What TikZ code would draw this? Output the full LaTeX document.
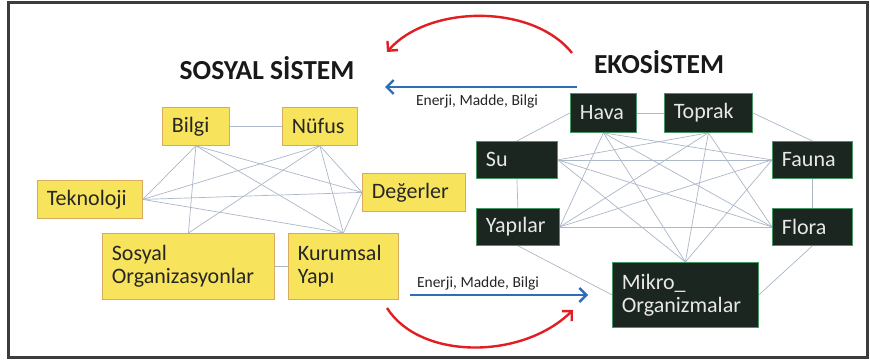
\documentclass[tikz,border=0pt]{standalone}
\usepackage{fontspec}
\setmainfont{Carlito}
\usetikzlibrary{arrows.meta}
\pgfdeclarelayer{background}
\pgfsetlayers{background,main}
\definecolor{yfill}{RGB}{247,228,92}
\definecolor{ydraw}{RGB}{214,170,96}
\definecolor{dfill}{RGB}{28,38,33}
\definecolor{ddraw}{RGB}{70,150,100}
\definecolor{dtext}{RGB}{232,232,232}
\definecolor{edgec}{RGB}{172,184,200}
\definecolor{redc}{RGB}{224,30,36}
\definecolor{bluec}{RGB}{46,110,182}
\definecolor{framec}{RGB}{60,60,60}
\tikzset{
  box/.style={rectangle, anchor=north west, align=left, inner xsep=9.5pt, inner ysep=0pt,
    font=\fontsize{22}{23}\selectfont},
  ybox/.style={box, fill=yfill, draw=ydraw, line width=0.8pt, text=black!85},
  dbox/.style={box, fill=dfill, draw=ddraw, line width=0.8pt, text=dtext},
  edge/.style={draw=edgec, line width=0.7pt},
  title/.style={font=\fontsize{27.5}{30}\selectfont\bfseries, text=black!90},
  flowlbl/.style={font=\fontsize{15.5}{17}\selectfont, text=black!85},
  redarrow/.style={draw=redc, line width=2.4pt, -{Straight Barb[length=7pt,width=14pt]}},
  bluearrow/.style={draw=bluec, line width=2.4pt, -{Straight Barb[length=7pt,width=14pt]}},
}
\begin{document}
\begin{tikzpicture}[x=1pt,y=-1pt]
\useasboundingbox (0,0) rectangle (870,361);
\begin{pgfonlayer}{background}
\fill[white] (0,0) rectangle (870,361);
\end{pgfonlayer}
\draw[framec, line width=3pt] (8,2.5) rectangle (867,357);

% titles
\node[title] (ts) at (267,68) {SOSYAL SİSTEM};
\node[title] (te) at (659,62) {EKOSİSTEM};

% social system nodes
\node[ybox, text width=48pt, minimum height=38pt] (bilgi) at (162,107) {Bilgi};
\node[ybox, text width=56pt, minimum height=38pt] (nufus) at (282,107) {Nüfus};
\node[ybox, text width=86pt, minimum height=38pt] (tek) at (37,180) {Teknoloji};
\node[ybox, text width=84pt, minimum height=38pt] (deg) at (362,173) {Değerler};
\node[ybox, text width=153pt, minimum height=66pt] (sos) at (102,233) {Sosyal\\Organizasyonlar};
\node[ybox, text width=91pt, minimum height=66pt] (kur) at (288,233) {Kurumsal\\Yapı};

% ecosystem nodes
\node[dbox, text width=47pt, minimum height=39pt] (hava) at (570,93) {Hava};
\node[dbox, text width=69pt, minimum height=39pt] (toprak) at (664,93) {Toprak};
\node[dbox, text width=62pt, minimum height=37pt] (su) at (476,141) {Su};
\node[dbox, text width=61pt, minimum height=37pt] (fauna) at (772,141) {Fauna};
\node[dbox, text width=64pt, minimum height=37pt] (yapi) at (476,208) {Yapılar};
\node[dbox, text width=61pt, minimum height=37pt] (flora) at (772,208) {Flora};
\node[dbox, text width=127pt, minimum height=65pt] (mikro) at (612,262) {Mikro\_\\Organizmalar};

\begin{pgfonlayer}{background}
% social edges
\draw[edge] (bilgi.east) -- (nufus.west);
\draw[edge] (sos.east) -- (kur.west);
\draw[edge] (bilgi.south) -- (tek.east);
\draw[edge] (bilgi.south) -- (sos.north);
\draw[edge] (bilgi.south) -- (deg.west);
\draw[edge] (bilgi.south) -- (kur.north);
\draw[edge] (nufus.south) -- (tek.east);
\draw[edge] (nufus.south) -- (sos.north);
\draw[edge] (nufus.south) -- (deg.west);
\draw[edge] (nufus.south) -- (kur.north);
\draw[edge] (tek.east) -- (deg.west);
\draw[edge] (tek.east) -- (kur.north);
\draw[edge] (deg.west) -- (kur.north);
% eco edges
\draw[edge] (hava.east) -- (toprak.west);
\draw[edge] (hava.west) -- (su.north);
\draw[edge] (toprak.east) -- (fauna.north);
\draw[edge] (su.south) -- (yapi.north);
\draw[edge] (fauna.south) -- (flora.north);
\draw[edge] (yapi.south) -- (mikro.west);
\draw[edge] (flora.south) -- (mikro.east);
\draw[edge] (su.east) -- (fauna.west);
\draw[edge] (yapi.east) -- (flora.west);
\draw[edge] (hava.south) -- (yapi.east);
\draw[edge] (hava.south) -- (fauna.west);
\draw[edge] (hava.south) -- (flora.west);
\draw[edge] (hava.south) -- (mikro.north);
\draw[edge] (toprak.south) -- (su.east);
\draw[edge] (toprak.south) -- (yapi.east);
\draw[edge] (toprak.south) -- (flora.west);
\draw[edge] (toprak.south) -- (mikro.north);
\draw[edge] (su.east) -- (flora.west);
\draw[edge] (su.east) -- (mikro.north);
\draw[edge] (fauna.west) -- (yapi.east);
\draw[edge] (fauna.west) -- (mikro.north);
\end{pgfonlayer}

% flows
\coordinate (bt1) at (577,87);
\coordinate (bt2) at (385,87);
\draw[bluearrow] (bt1) -- (bt2);
\node[flowlbl] (lt) at (477,101) {Enerji, Madde, Bilgi};

\coordinate (bb1) at (410,295);
\coordinate (bb2) at (588,295);
\draw[bluearrow] (bb1) -- (bb2);
\node[flowlbl] (lb) at (478,283) {Enerji, Madde, Bilgi};

\coordinate (rt1) at (572,53);
\coordinate (rt2) at (387,52);
\draw[redarrow] (rt1) .. controls (532,3) and (428,5) .. (rt2);

\coordinate (rb1) at (387,308);
\coordinate (rb2) at (573,310);
\draw[redarrow] (rb1) .. controls (420,360) and (522,360) .. (rb2);
\end{tikzpicture}
\end{document}
